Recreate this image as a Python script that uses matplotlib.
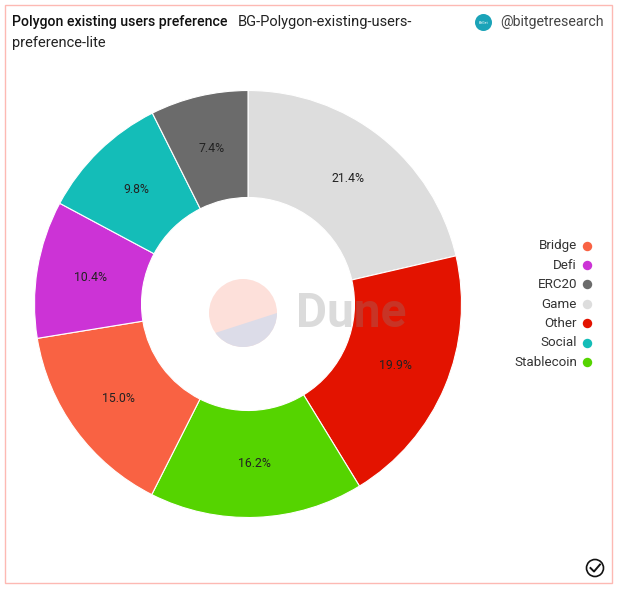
import matplotlib
matplotlib.use('Agg')
from matplotlib import pyplot as plt
from matplotlib.patches import Circle, Polygon, Rectangle

plt.rcParams['font.family'] = ['Roboto', 'DejaVu Sans']

# Slices, clockwise from 12 o'clock
slices = ['Game', 'Other', 'Stablecoin', 'Bridge', 'Defi', 'Social', 'ERC20']
shares = [21.4, 19.9, 16.2, 15.0, 10.4, 9.8, 7.4]
slice_colors = ['#dddddd', '#e31300', '#55d400', '#f96243', '#cc33d6', '#14bdb8', '#6b6b6b']

# Legend runs alphabetically
legend_names = ['Bridge', 'Defi', 'ERC20', 'Game', 'Other', 'Social', 'Stablecoin']

title = 'Polygon existing users preference'
subtitle = 'BG-Polygon-existing-users-'
subtitle2 = 'preference-lite'
handle = '@bitgetresearch'

W, H = 618, 590
fig = plt.figure(figsize=(W / 100, H / 100), dpi=100)
ax = fig.add_axes([0, 0, 1, 1])


# Everything below is placed in pixels from the top left
def py(y):
    return H - y


# Donut
wedges, _, pct_texts = ax.pie(
    shares, colors=slice_colors, startangle=90, counterclock=False,
    center=(248, py(304)), radius=213.5, frame=True,
    autopct='%.1f%%', pctdistance=0.75,
    wedgeprops=dict(width=107, ec='white', lw=0.8),
    textprops=dict(fontsize=8.8, color='#222222'))
ax.set_xlim(0, W)
ax.set_ylim(0, H)
ax.set_aspect('equal')
ax.axis('off')

# Card border
ax.add_patch(Rectangle((4.5, py(582.5)), 607.5, 578, fill=False, ec='#fdb9b3', lw=1))

# Header
ax.text(12, py(22), title, fontsize=10.2, fontweight='medium', color='#111111', va='center')
ax.text(238, py(22), subtitle, fontsize=10.5, color='#222222', va='center')
ax.text(12, py(43), subtitle2, fontsize=10.5, color='#222222', va='center')
ax.add_patch(Circle((483.5, py(22.5)), 8.5, fc='#1ba3b8', ec='none'))
ax.text(483.5, py(22.5), 'BitGet', fontsize=2.5, color='white', ha='center', va='center')
ax.text(604, py(22), handle, fontsize=10.2, color='#444444', ha='right', va='center')

# Dune watermark, the lower part is a chord cut of the circle
logo = Circle((243, py(313)), 34, fc='#fde0da', ec='none', zorder=5)
ax.add_patch(logo)
lower = Polygon([(277, py(313)), (215, py(333)), (205, py(355)), (285, py(355))],
                fc='#dcdce8', ec='none', zorder=5)
ax.add_patch(lower)
lower.set_clip_path(logo)
ax.text(296, py(314), 'Dune', fontsize=34.4, fontweight='bold', color='#868686', alpha=0.29,
        ha='left', va='center', zorder=5)

# Legend
for i, name in enumerate(legend_names):
    y = 245.5 + i * 19.4
    ax.text(577, py(y + 0.5), name, fontsize=9.6, color='#333333', ha='right', va='center')
    ax.plot(586.5, py(y), 'o', ms=6.8, mfc=slice_colors[slices.index(name)], mec='none')

# Check mark badge
ax.add_patch(Circle((595, py(568)), 8.5, fc='white', ec='#111111', lw=1.2))
ax.plot([590.5, 594, 600], [py(568), py(571.5), py(564.5)], color='#111111', lw=1.4)

fig.savefig('out.png', dpi=100)
